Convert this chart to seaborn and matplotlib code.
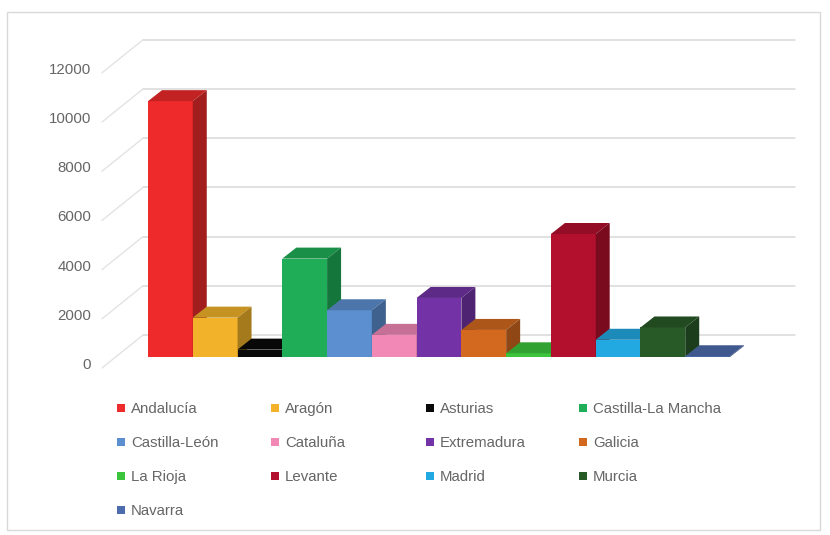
import numpy as np
import pandas as pd
import seaborn as sns
import matplotlib
matplotlib.use("Agg")
import matplotlib.pyplot as plt
import matplotlib.colors as mcolors
from matplotlib.patches import Polygon, Rectangle
from matplotlib.lines import Line2D

# Datos por comunidad autónoma
regiones = ["Andalucía", "Aragón", "Asturias", "Castilla-La Mancha",
            "Castilla-León", "Cataluña", "Extremadura", "Galicia",
            "La Rioja", "Levante", "Madrid", "Murcia", "Navarra"]
casos = [10400, 1600, 300, 4000, 1900, 900, 2400, 1100, 150, 5000, 700, 1200, 30]
colores = ["#ee2a2a", "#f2b32a", "#0a0a0a", "#1fae57", "#5b8fd0", "#f288b6",
           "#7333a6", "#d2691f", "#3cc43c", "#b3102e", "#23a9e1", "#285a27",
           "#4d6cae"]
marcas_y = [0, 2000, 4000, 6000, 8000, 10000, 12000]

sns.set_theme(style="white")
plt.rcParams["font.family"] = ["Liberation Sans", "DejaVu Sans"]

W, H = 830, 535
fig = plt.figure(figsize=(W / 100, H / 100), dpi=100)
fig.patch.set_facecolor("white")

def fx(px):
    return px / W

def fy(py):
    return 1 - py / H

# Plano frontal de las columnas (en píxeles de la figura)
x_izq, x_der = 148, 730
y_base, px_por_unidad = 357, 295.2 / 12000
ax = fig.add_axes([fx(x_izq), fy(y_base), (x_der - x_izq) / W,
                   12000 * px_por_unidad / H])
ax.set_xlim(-0.5, len(regiones) - 0.5)
ax.set_ylim(0, 12000)
ax.axis("off")

df = pd.DataFrame({"region": regiones, "casos": casos})
sns.barplot(data=df, x="region", y="casos", hue="region", palette=colores,
            width=1.0, saturation=1, legend=False, linewidth=0, ax=ax)

px_x = (x_der - x_izq) / len(regiones)   # píxeles por categoría

def dx(px):
    return px / px_x

def dy(px):
    return px / px_por_unidad

# Pared del fondo: líneas de división y diagonales hacia las etiquetas
fondo_izq, fondo_der = -0.5 + dx(143 - x_izq), -0.5 + dx(795 - x_izq)
fondo_dy = dy(22)
frente_x = -0.5 + dx(102 - x_izq)
for v in marcas_y:
    ax.plot([fondo_izq, fondo_der], [v + fondo_dy, v + fondo_dy],
            color="#d9d9d9", lw=1.1, zorder=1, clip_on=False)
    ax.plot([frente_x, fondo_izq], [v - dy(11), v + fondo_dy],
            color="#e3e3e3", lw=1.0, zorder=1, clip_on=False)
    ax.text(-0.5 + dx(91 - x_izq), v - dy(8), f"{v}", ha="right",
            va="center", fontsize=10.8, color="#666666", clip_on=False)

# Volumen de cada columna: cara superior y lateral
prof_x, prof_y = dx(14), dy(11)
for i, p in enumerate(ax.patches):
    x0, w, h = p.get_x(), p.get_width(), p.get_height()
    base = np.array(mcolors.to_rgb(colores[i]))
    p.set_zorder(3 + i)
    techo = Polygon([(x0, h), (x0 + w, h), (x0 + w + prof_x, h + prof_y),
                     (x0 + prof_x, h + prof_y)], closed=True,
                    facecolor=base * 0.82, edgecolor="none", zorder=3 + i,
                    clip_on=False)
    lado = Polygon([(x0 + w, 0), (x0 + w + prof_x, prof_y),
                    (x0 + w + prof_x, h + prof_y), (x0 + w, h)], closed=True,
                   facecolor=base * 0.68, edgecolor="none", zorder=3 + i,
                   clip_on=False)
    ax.add_patch(techo)
    ax.add_patch(lado)

# Leyenda en cuatro columnas de igual ancho
col_x = [121, 275, 430, 583]
for c, x_col in enumerate(col_x):
    idx = list(range(c, len(regiones), 4))
    handles = [Line2D([], [], ls="none", marker="s", markersize=5.5,
                      markerfacecolor=colores[k], markeredgewidth=0)
               for k in idx]
    fig.legend(handles, [regiones[k] for k in idx], loc="upper left",
               bbox_to_anchor=(fx(x_col - 5), fy(402)), frameon=False,
               fontsize=10.8, labelcolor="#666666", handlelength=0.65,
               handletextpad=0.35, borderpad=0, borderaxespad=0,
               labelspacing=1.34)

# Marco del gráfico
fig.add_artist(Rectangle((fx(7), fy(530)), fx(820) - fx(7), fy(12) - fy(530),
                         transform=fig.transFigure, fill=False,
                         edgecolor="#d9d9d9", lw=1.0))

fig.savefig("out.png", dpi=100)
